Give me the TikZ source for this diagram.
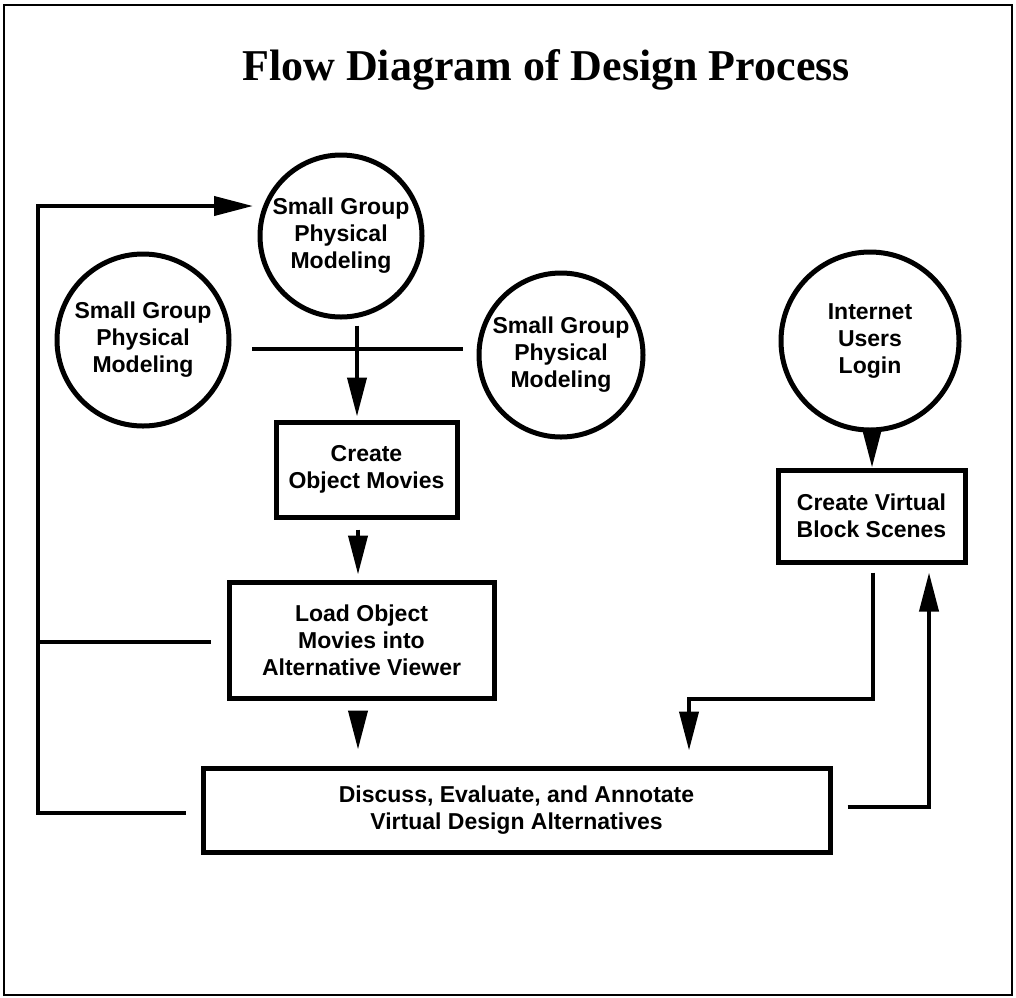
\documentclass[tikz,border=0pt]{standalone}
\usepackage{fontspec}
\setmainfont{Liberation Sans}
\newfontfamily\titlefont{Liberation Serif}
\usetikzlibrary{arrows.meta}
\begin{document}
\begin{tikzpicture}[x=1pt,y=-1pt,
  lbl/.style={font=\fontsize{23}{27}\selectfont\bfseries, align=center, text=black},
  bubble/.style={lbl, draw, circle, line width=5pt, inner sep=0pt},
  box/.style={lbl, draw, rectangle, line width=5pt, inner sep=0pt},
  conn/.style={line width=4pt},
  arr/.style={conn, -{Triangle[length=39pt,width=19pt]}},
]
\useasboundingbox (0,0) rectangle (1016,997);
\draw[line width=2pt] (4,5) rectangle (1012,995);
\node[font=\titlefont\fontsize{44}{48}\selectfont\bfseries, anchor=base] (title) at (546,80) {Flow Diagram of Design Process};

\node[bubble, minimum size=162pt] (c1) at (341,236) {Small Group\\Physical\\Modeling};
\node[bubble, minimum size=172pt] (c2) at (143,340) {Small Group\\Physical\\Modeling};
\node[bubble, minimum size=164pt] (c3) at (561,355) {Small Group\\Physical\\Modeling};
\node[bubble, minimum size=178pt] (c4) at (870,341) {Internet\\Users\\Login};
\node[box, minimum width=181pt, minimum height=95pt] (b1) at (366.5,469.5) {Create\\Object Movies};
\node[box, minimum width=265pt, minimum height=116pt] (b2) at (361.5,640) {Load Object\\Movies into\\Alternative Viewer};
\node[box, minimum width=627pt, minimum height=84pt] (b3) at (516.5,810) {Discuss, Evaluate, and Annotate\\Virtual Design Alternatives};
\node[box, minimum width=187pt, minimum height=92pt] (b4) at (871.5,516) {Create Virtual\\Block Scenes};

% coordinates for bends and free ends
\coordinate (h1) at (252,349);
\coordinate (h2) at (463,349);
\coordinate (xa) at (357,0);
\coordinate (xb) at (358,0);
\coordinate (xc) at (872,0);
\coordinate (lx) at (38,0);
\coordinate (ltop) at (38,206);
\coordinate (ltip) at (253,206);
\coordinate (rdown) at (873,699);
\coordinate (rleft) at (689,699);
\coordinate (rup) at (929,807);

% horizontal line between side circles
\draw[conn] (h1) -- (h2);
% vertical arrows (yshift is in page units: negative = downwards)
\draw[arr, shorten >=3pt] ([yshift=-6pt]c1.south -| xa) -- (b1.north -| xa);
\draw[arr, shorten >=5pt] ([yshift=-10pt]b1.south -| xb) -- (b2.north -| xb);
\draw[arr, shorten >=16pt] ([yshift=-12pt]b2.south -| xb) -- (b3.north -| xb);
\draw[arr] (c4.south -| xc) -- (b4.north -| xc);
% feedback loop on the left
\draw[arr] ([xshift=-15pt,yshift=-3pt]b3.west) -- ([yshift=-3pt]b3.west -| lx) -- (ltop) -- (ltip);
\draw[conn] ([xshift=-16pt,yshift=-2pt]b2.west) -- ([yshift=-2pt]b2.west -| lx);
% right side connections
\draw[arr, shorten >=15pt] ([xshift=1.5pt,yshift=-8pt]b4.south) -- (rdown) -- (rleft) -- (b3.north -| rleft);
\draw[arr, shorten >=8pt] ([xshift=15pt,yshift=3pt]b3.east) -- (rup) -- (b4.south -| rup);
\end{tikzpicture}
\end{document}
